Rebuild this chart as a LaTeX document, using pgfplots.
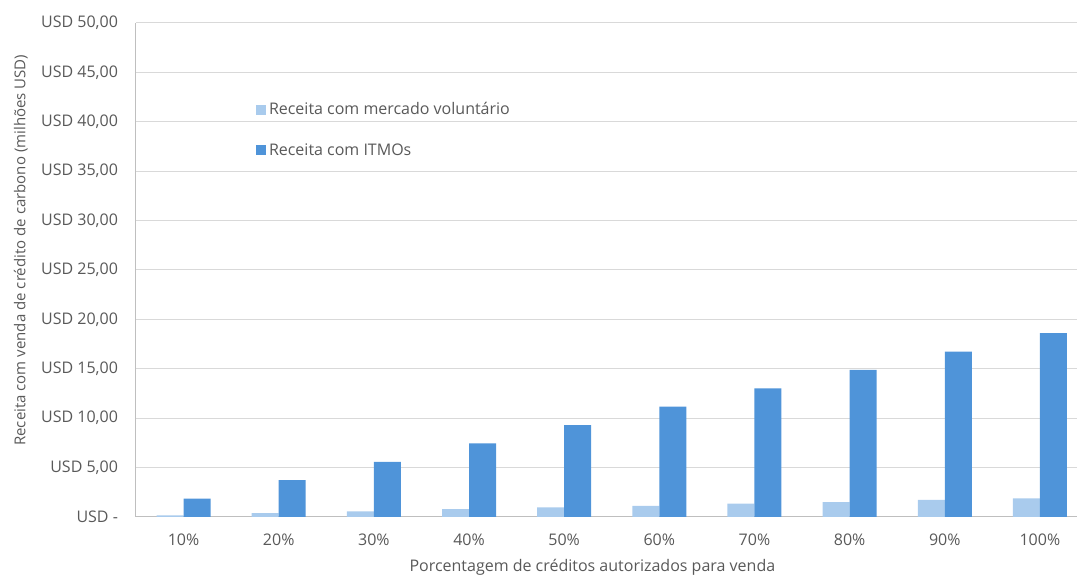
\documentclass[border=0pt]{standalone}
\usepackage{fontspec}
\setmainfont{Open Sans}
\usepackage{pgfplots}
\pgfplotsset{compat=1.18}
\definecolor{vol}{RGB}{169,203,237}
\definecolor{itmo}{RGB}{79,148,217}
\definecolor{txt}{RGB}{89,89,89}
\definecolor{gridc}{RGB}{217,217,217}
\definecolor{axc}{RGB}{191,191,191}

\begin{document}
\begin{tikzpicture}
\begin{axis}[
  name=ax,
  scale only axis,
  width=705.75pt, height=370.5pt,
  xmin=-0.5, xmax=9.39,
  ymin=0, ymax=50,
  ytick={0,5,...,50},
  yticklabels={USD -,{USD 5,00},{USD 10,00},{USD 15,00},{USD 20,00},{USD 25,00},{USD 30,00},{USD 35,00},{USD 40,00},{USD 45,00},{USD 50,00}},
  xtick={0,...,9},
  xticklabels={10\%,20\%,30\%,40\%,50\%,60\%,70\%,80\%,90\%,100\%},
  major tick length=0pt,
  ymajorgrids,
  grid style={gridc, line width=0.75pt},
  axis x line*=bottom,
  axis y line*=left,
  axis line style={axc, line width=0.75pt},
  tick label style={font=\fontsize{12}{14}\selectfont, text=txt},
  yticklabel style={xshift=-10pt},
  xticklabel style={yshift=-9.5pt},
  label style={font=\fontsize{12}{14}\selectfont, text=txt},
  xlabel={Porcentagem de créditos autorizados para venda},
  xlabel style={at={(rel axis cs:0.485,-0.101)}, anchor=center},
  ylabel={Receita com venda de crédito de carbono (milhões USD)},
  ylabel style={at={(rel axis cs:-0.1223,0.540)}, anchor=center, rotate=0,
    font=\fontsize{11.25}{13}\selectfont},
  legend style={at={(rel axis cs:0.1225,0.852)}, anchor=north west, draw=none, fill=none,
    font=\fontsize{12}{14}\selectfont, text=txt, row sep=14.8pt,
    nodes={inner sep=2.6pt}},
  legend cell align=left,
  legend image code/.code={\fill (0pt,-3.75pt) rectangle (7.5pt,3.75pt);},
]
% voluntary market revenue
\addplot[ybar, bar width=20.25pt, bar shift=-10.125pt, fill=vol, draw=none]
  coordinates {(0,0.17) (1,0.40) (2,0.57) (3,0.80) (4,0.97) (5,1.12) (6,1.36) (7,1.50) (8,1.74) (9,1.89)};
\addlegendentry{Receita com mercado voluntário}
% ITMO revenue
\addplot[ybar, bar width=20.25pt, bar shift=10.125pt, fill=itmo, draw=none]
  coordinates {(0,1.86) (1,3.72) (2,5.58) (3,7.44) (4,9.30) (5,11.16) (6,13.02) (7,14.88) (8,16.74) (9,18.60)};
\addlegendentry{Receita com ITMOs}
\end{axis}
\pgfresetboundingbox
\path[use as bounding box] ([shift={(-102pt,-45pt)}]ax.south west) rectangle ([shift={(0pt,17.25pt)}]ax.north east);
\end{tikzpicture}
\end{document}
